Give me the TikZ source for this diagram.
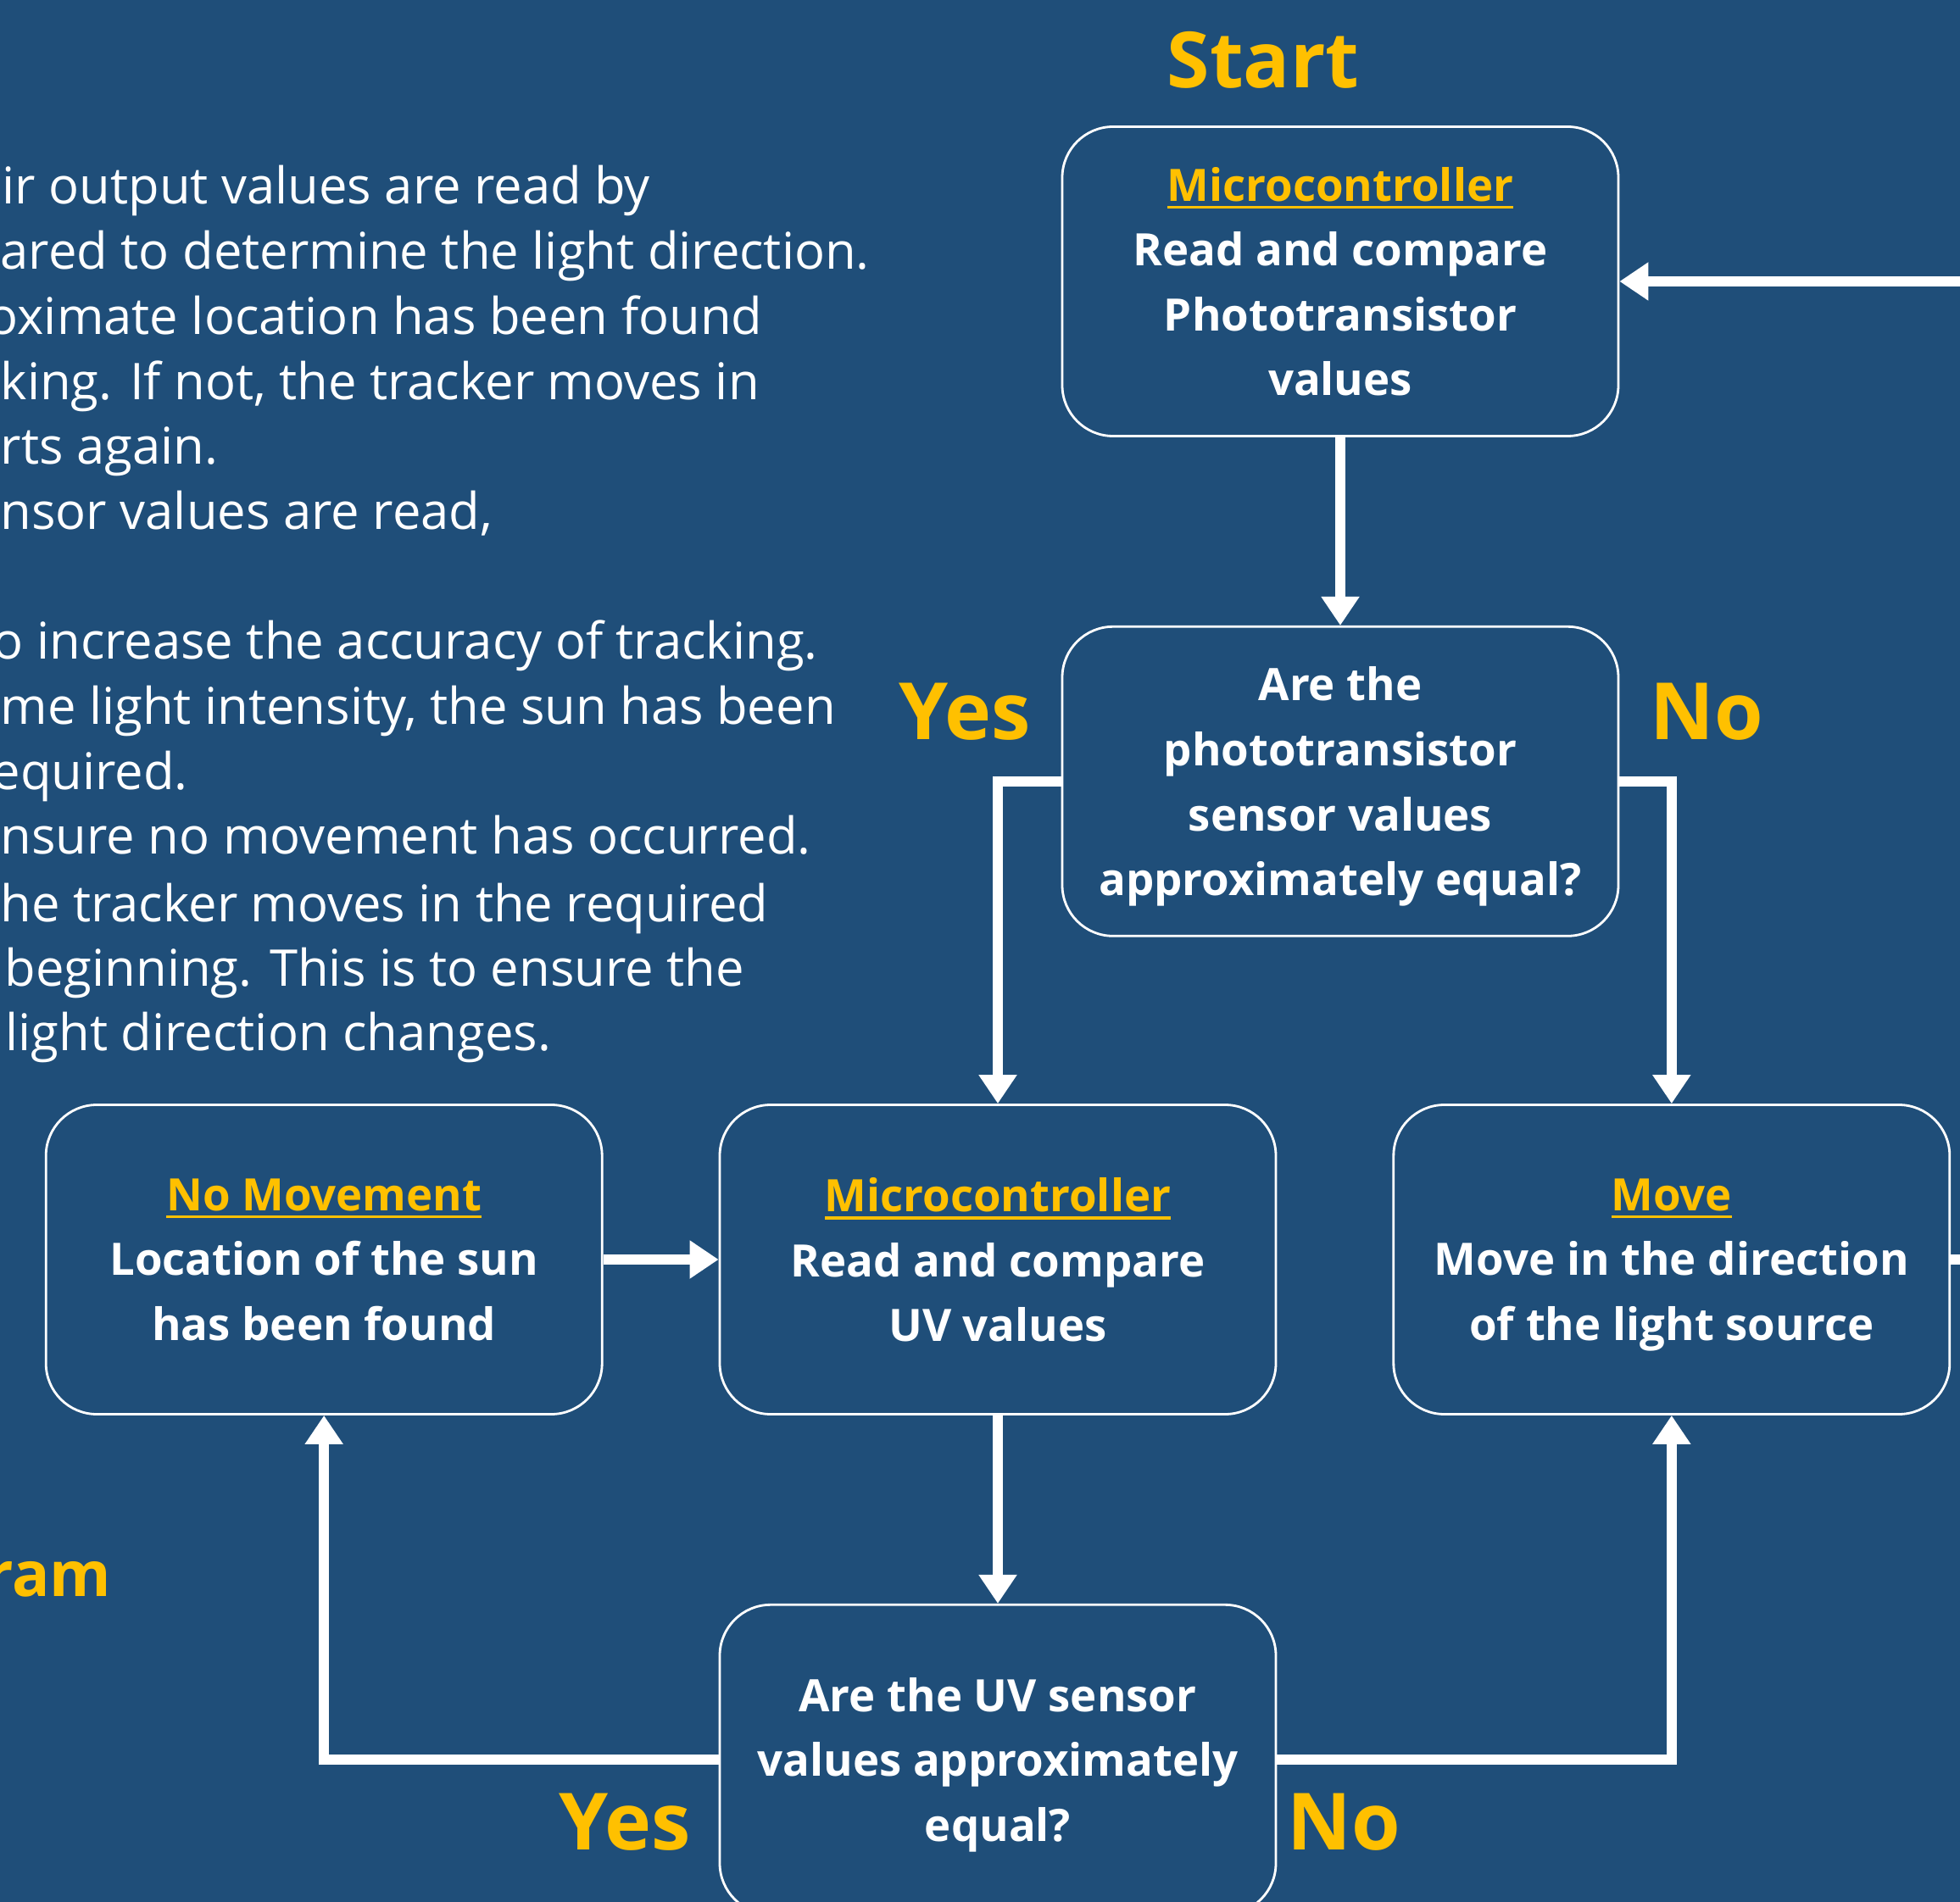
\documentclass[tikz,border=0pt]{standalone}
\usepackage{fontspec}
\setmainfont{Open Sans}
\usetikzlibrary{arrows.meta,positioning}
\definecolor{bgblue}{HTML}{1F4E79}
\definecolor{gold}{HTML}{FFC000}
\newcommand{\boxhead}[1]{{\color{gold}\setbox0\hbox{#1}\rlap{\rule[-2.6pt]{\wd0}{1pt}}\box0}}

\begin{document}
\begin{tikzpicture}[>=Triangle, node distance=2.22cm and 1.36cm, box/.style={draw=white, line width=0.8pt, rounded corners=0.6cm, fill=bgblue, text=white, align=center, minimum width=6.56cm, minimum height=3.65cm, inner sep=0pt, text depth=0pt, font=\bfseries\fontsize{15}{21.8}\selectfont}, conn/.style={white, line width=3.3pt, -{Triangle[width=4.3mm,length=3.4mm]}}, yesno/.style={text=gold, inner sep=0pt, font=\bfseries\fontsize{26.5}{32}\selectfont}, bodyline/.style={text=white, inner sep=0pt, anchor=base west, font=\fontsize{17}{20}\selectfont}]
\path[fill=bgblue, use as bounding box] (0,0) rectangle (23.12,-22.44);
\clip (0,0) rectangle (23.12,-22.44);
% text column, cut at the left edge
\foreach \yy/\dx/\txt [count=\i] in {2.41/0.02/{ir output values are read by}, 3.18/0/{ared to determine the light direction.}, 3.95/-0.15/{oximate location has been found}, 4.72/0/{king. If not, the tracker moves in}, 5.48/0/{rts again.}, 6.25/0/{nsor values are read,}, 7.78/-0.09/{o increase the accuracy of tracking.}, 8.55/0/{me light intensity, the sun has been}, 9.32/-0.10/{equired.}, 10.08/0/{nsure no movement has occurred.}, 10.87/0/{he tracker moves in the required}, 11.63/0.05/{beginning. This is to ensure the}, 12.40/0.06/{light direction changes.}}
  \node[bodyline] (body\i) at (\dx,-\yy) {\txt};
\node[text=gold, inner sep=0pt, anchor=base east, font=\bfseries\fontsize{21}{25}\selectfont] (diagtitle) at (1.32,-18.83) {ram};
% flow boxes
\node[box] (ctrl1) at (15.81,-3.32) {\boxhead{Microcontroller}\\Read and compare\\Phototransistor\\values};
\node[box, below=of ctrl1] (photoq) {Are the\\phototransistor\\sensor values\\approximately equal?};
\node[box] (ctrl2) at (11.77,-14.86) {\boxhead{Microcontroller}\\Read and compare\\UV values};
\node[box, left=of ctrl2] (nomove) {\boxhead{No Movement}\\Location of the sun\\has been found};
\node[box, right=of ctrl2] (move) {\boxhead{Move}\\Move in the direction\\of the light source};
\node[box, below=of ctrl2] (uvq) {Are the UV sensor\\values approximately\\equal?};
% labels
\node[yesno, font=\bfseries\fontsize{26}{30}\selectfont] (start) at (14.90,-0.71) {Start};
\node[yesno] (yes1) at (11.38,-8.40) {Yes};
\node[yesno] (no1) at (20.13,-8.40) {No};
\node[yesno] (yes2) at (7.37,-21.50) {Yes};
\node[yesno] (no2) at (15.85,-21.50) {No};
% connectors
\coordinate (inR) at (23.12,-3.32);
\coordinate (outR) at (23.12,-14.86);
\draw[conn] (inR) -- (ctrl1);
\draw[conn] (ctrl1) -- (photoq);
\draw[conn] (photoq.west) -| (ctrl2.north);
\draw[conn] (photoq.east) -| (move.north);
\draw[conn] (nomove) -- (ctrl2);
\draw[conn] (ctrl2) -- (uvq);
\draw[conn] (uvq.west) -| (nomove.south);
\draw[conn] (uvq.east) -| (move.south);
\draw[white, line width=3.3pt] (move) -- (outR);
\end{tikzpicture}
\end{document}
